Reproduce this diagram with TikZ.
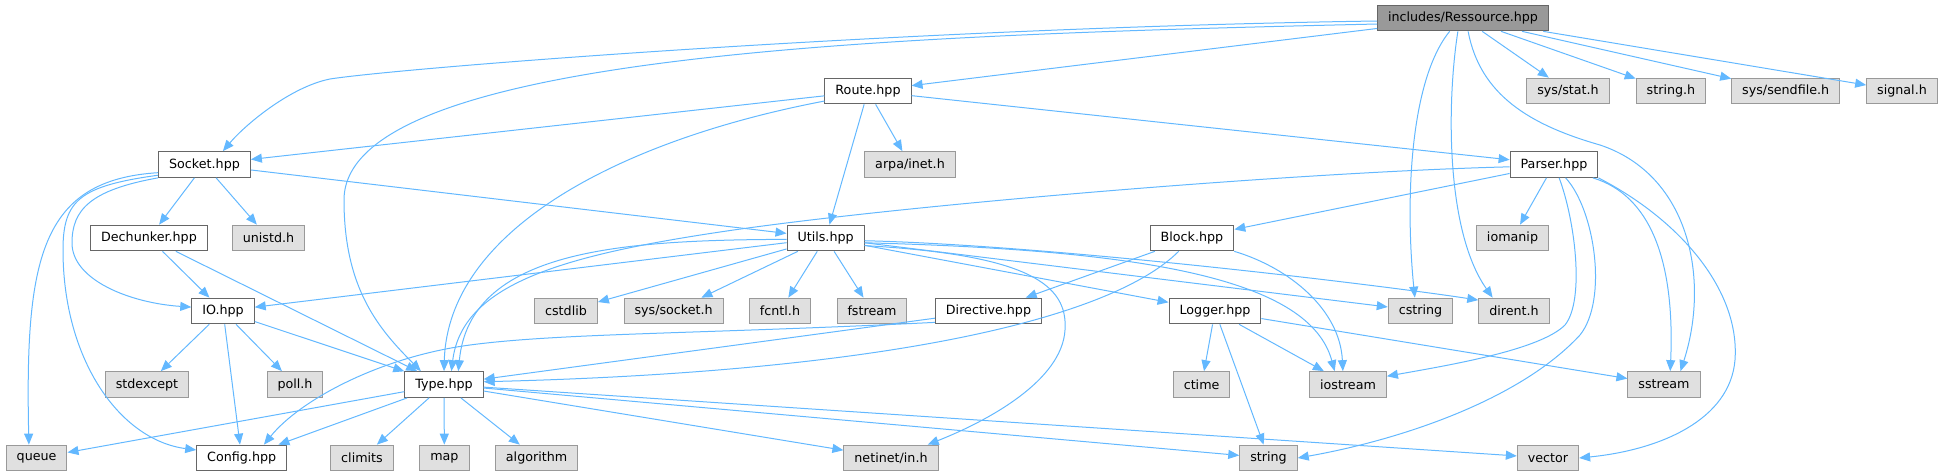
\documentclass[tikz,border=0pt]{standalone}
\usepackage{fontspec}
\setsansfont{DejaVu Sans}
\usepackage{xcolor}
\usetikzlibrary{arrows.meta}
\definecolor{edgeblue}{HTML}{63B8FF}
\definecolor{boxline}{HTML}{666666}
\definecolor{sysline}{HTML}{999999}
\definecolor{sysfill}{HTML}{E0E0E0}
\definecolor{rootfill}{HTML}{999999}

\begin{document}
\begin{tikzpicture}[x=1pt, y=1pt, >={Triangle[length=11pt, width=9pt]},
  incbox/.style={draw=boxline, fill=white, line width=1pt, minimum height=25.7pt,
    inner xsep=10.5pt, inner ysep=0pt, font=\sffamily\fontsize{12.7}{15}\selectfont},
  hdrbox/.style={incbox},
  sysbox/.style={incbox, draw=sysline, fill=sysfill},
  rootbox/.style={incbox, fill=rootfill},
  incl/.style={->, draw=edgeblue, line width=1pt}
]
  \useasboundingbox (0,0) rectangle (1944,-476);

  % Top file
  \node[rootbox] (res) at (1463,-18) {includes/Ressource.hpp};

  % Second row
  \node[hdrbox] (route) at (868,-91) {Route.hpp};
  \node[sysbox] (sysstat) at (1568,-91) {sys/stat.h};
  \node[sysbox] (stringh) at (1671,-91) {string.h};
  \node[sysbox] (sendfile) at (1785.7,-91) {sys/sendfile.h};
  \node[sysbox] (signal) at (1902,-91) {signal.h};

  % Third row
  \node[hdrbox] (sock) at (204.5,-164.5) {Socket.hpp};
  \node[sysbox] (arpa) at (910,-164.5) {arpa/inet.h};
  \node[hdrbox] (parser) at (1554,-164.5) {Parser.hpp};

  % Fourth row
  \node[hdrbox] (dech) at (149,-238) {Dechunker.hpp};
  \node[sysbox] (unistd) at (268.5,-238) {unistd.h};
  \node[hdrbox] (utils) at (825.6,-238) {Utils.hpp};
  \node[hdrbox] (block) at (1192,-238) {Block.hpp};
  \node[sysbox] (iomanip) at (1512.5,-238) {iomanip};

  % Fifth row
  \node[hdrbox] (io) at (223,-311) {IO.hpp};
  \node[sysbox] (cstdlib) at (566,-311) {cstdlib};
  \node[sysbox] (syssock) at (673.6,-311) {sys/socket.h};
  \node[sysbox] (fcntl) at (780,-311) {fcntl.h};
  \node[sysbox] (fstream) at (872,-311) {fstream};
  \node[hdrbox] (directive) at (988.5,-311) {Directive.hpp};
  \node[hdrbox] (logger) at (1215,-311) {Logger.hpp};
  \node[sysbox] (cstring) at (1420.5,-311) {cstring};
  \node[sysbox] (dirent) at (1514,-311) {dirent.h};

  % Sixth row
  \node[sysbox] (stdexcept) at (147,-384.5) {stdexcept};
  \node[sysbox] (poll) at (295,-384.5) {poll.h};
  \node[hdrbox] (type) at (444,-384.5) {Type.hpp};
  \node[sysbox] (ctime) at (1201.6,-384.5) {ctime};
  \node[sysbox] (iostream) at (1348,-384.5) {iostream};
  \node[sysbox] (sstream) at (1664,-384.5) {sstream};

  % Bottom row
  \node[sysbox] (queue) at (36.6,-458) {queue};
  \node[hdrbox] (config) at (241.7,-458) {Config.hpp};
  \node[sysbox] (climits) at (362,-458) {climits};
  \node[sysbox] (map) at (444.4,-458) {map};
  \node[sysbox] (algorithm) at (536.6,-458) {algorithm};
  \node[sysbox] (netinet) at (891,-458) {netinet/in.h};
  \node[sysbox] (string) at (1268.5,-458) {string};
  \node[sysbox] (vector) at (1548,-458) {vector};

  % includes/Ressource.hpp
  \draw[incl] (res.182) .. controls (900,-28) and (400,-68) .. (330,-79) .. controls (290,-87) and (245,-125) .. (sock.36);
  \draw[incl] (res.184) .. controls (900,-35) and (344,-52) .. (344,-200) .. controls (344,-290) and (380,-330) .. (type.150);
  \draw[incl] (res) -- (route);
  \draw[incl] (res.225) .. controls (1410,-80) and (1405,-200) .. (cstring.113);
  \draw[incl] (res.249) .. controls (1447,-100) and (1445,-230) .. (dirent.148);
  \draw[incl] (res.291) .. controls (1480,-95) and (1530,-125) .. (1600,-145) .. controls (1690,-175) and (1710,-280) .. (sstream.39);
  \draw[incl] (res) -- (sysstat);
  \draw[incl] (res) -- (stringh);
  \draw[incl] (res) -- (sendfile);
  \draw[incl] (res) -- (signal);

  % Route.hpp
  \draw[incl] (route) -- (sock);
  \draw[incl] (route.193) .. controls (620,-140) and (448,-230) .. (type.north);
  \draw[incl] (route) -- (utils);
  \draw[incl] (route) -- (arpa);
  \draw[incl] (route) -- (parser);

  % Socket.hpp
  \draw[incl] (sock) -- (dech);
  \draw[incl] (sock) -- (unistd);
  \draw[incl] (sock) -- (utils);
  \draw[incl] (sock.190) .. controls (40,-180) and (25,-260) .. (queue.120);
  \draw[incl] (sock.193) .. controls (80,-186) and (63,-200) .. (63,-250) .. controls (63,-360) and (120,-440) .. (config.170);
  \draw[incl] (sock.south west) .. controls (90,-190) and (72,-210) .. (72,-243) .. controls (72,-280) and (130,-303) .. (io.173);

  % Dechunker.hpp
  \draw[incl] (dech) -- (io);
  \draw[incl] (dech) -- (type);

  % IO.hpp
  \draw[incl] (io) -- (stdexcept);
  \draw[incl] (io) -- (poll);
  \draw[incl] (io) -- (config);
  \draw[incl] (io) -- (type);

  % Utils.hpp
  \draw[incl] (utils) -- (io);
  \draw[incl] (utils.182) .. controls (620,-240) and (470,-250) .. (type.43);
  \draw[incl] (utils) -- (cstdlib);
  \draw[incl] (utils) -- (syssock);
  \draw[incl] (utils) -- (fcntl);
  \draw[incl] (utils) -- (fstream);
  \draw[incl] (utils) -- (logger);
  \draw[incl] (utils) -- (cstring);
  \draw[incl] (utils.356) .. controls (1050,-245) and (1380,-285) .. (dirent.163);
  \draw[incl] (utils.353) .. controls (1150,-250) and (1310,-280) .. (iostream.135);
  \draw[incl] (utils.349) .. controls (1030,-255) and (1068,-285) .. (1065,-330) .. controls (1062,-380) and (990,-420) .. (netinet.20);

  % Block.hpp
  \draw[incl] (block) -- (directive);
  \draw[incl] (block.225) .. controls (1110,-320) and (880,-372) .. (type.4);
  \draw[incl] (block.south east) .. controls (1290,-268) and (1340,-310) .. (iostream.111);

  % Directive.hpp
  \draw[incl] (directive.192) .. controls (700,-334) and (560,-333) .. (470,-345) .. controls (380,-357) and (300,-400) .. (config.31);
  \draw[incl] (directive) -- (type);

  % Logger.hpp
  \draw[incl] (logger) -- (ctime);
  \draw[incl] (logger) -- (string);
  \draw[incl] (logger) -- (iostream);
  \draw[incl] (logger) -- (sstream);

  % Parser.hpp
  \draw[incl] (parser.183) .. controls (1300,-172) and (900,-205) .. (720,-232) .. controls (560,-256) and (462,-285) .. (type.61);
  \draw[incl] (parser) -- (block);
  \draw[incl] (parser) -- (iomanip);
  \draw[incl] (parser.291) .. controls (1575,-220) and (1585,-300) .. (1565,-325) .. controls (1540,-350) and (1450,-365) .. (iostream.12);
  \draw[incl] (parser.311) .. controls (1595,-210) and (1608,-300) .. (1580,-335) .. controls (1520,-400) and (1400,-440) .. (string.east);
  \draw[incl] (parser.341) .. controls (1650,-195) and (1675,-260) .. (sstream.65);
  \draw[incl] (parser.south east) .. controls (1680,-220) and (1740,-290) .. (1735,-360) .. controls (1730,-420) and (1660,-450) .. (vector.east);

  % Type.hpp
  \draw[incl] (type) -- (queue);
  \draw[incl] (type) -- (config);
  \draw[incl] (type) -- (climits);
  \draw[incl] (type) -- (map);
  \draw[incl] (type) -- (algorithm);
  \draw[incl] (type) -- (netinet);
  \draw[incl] (type) -- (string);
  \draw[incl] (type) -- (vector);
\end{tikzpicture}
\end{document}
